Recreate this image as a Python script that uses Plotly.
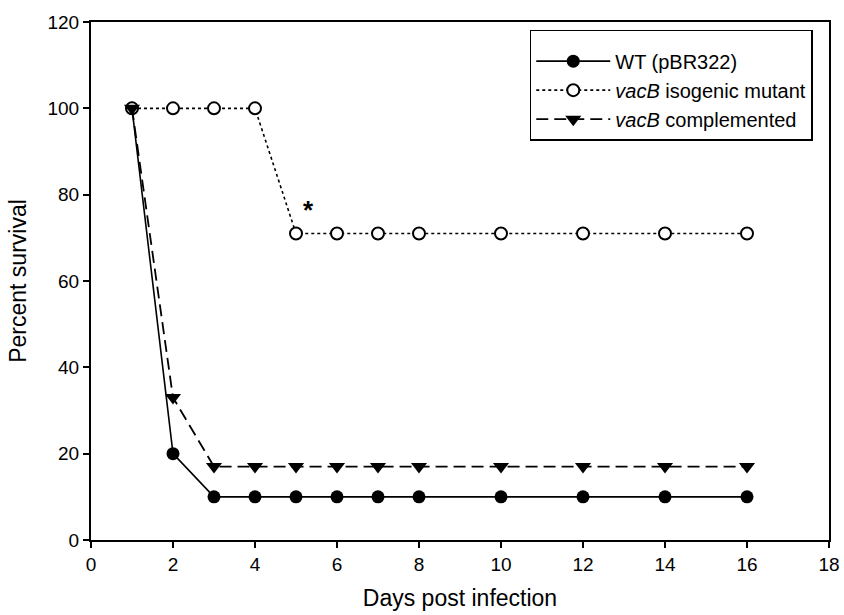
import plotly.graph_objects as go

days = [1, 2, 3, 4, 5, 6, 7, 8, 10, 12, 14, 16]
wt = [100, 20, 10, 10, 10, 10, 10, 10, 10, 10, 10, 10]
mutant = [100, 100, 100, 100, 71, 71, 71, 71, 71, 71, 71, 71]
complemented = [100, 33, 17, 17, 17, 17, 17, 17, 17, 17, 17, 17]

x_ticks = [0, 2, 4, 6, 8, 10, 12, 14, 16, 18]
y_ticks = [0, 20, 40, 60, 80, 100, 120]

fig = go.Figure()
fig.add_trace(go.Scatter(
    x=days, y=wt, mode="lines+markers", name="WT (pBR322)",
    line=dict(color="black", width=1.6, dash="solid"),
    marker=dict(symbol="circle", size=13, color="black"),
))
fig.add_trace(go.Scatter(
    x=days, y=mutant, mode="lines+markers", name="<i>vacB</i> isogenic mutant",
    line=dict(color="black", width=1.6, dash="dot"),
    marker=dict(symbol="circle", size=12, color="white", line=dict(width=2, color="black")),
))
fig.add_trace(go.Scatter(
    x=days, y=complemented, mode="lines+markers", name="<i>vacB</i> complemented",
    line=dict(color="black", width=1.8, dash="12px,6px"),
    marker=dict(symbol="triangle-down", size=14, color="black"),
))

fig.add_annotation(x=5.3, y=76.5, text="<b>*</b>", showarrow=False,
                   font=dict(size=26, color="black", family="Liberation Sans"))

axis_common = dict(
    showgrid=False, zeroline=False, showline=True, linecolor="black", linewidth=2,
    mirror=True, ticks="outside", ticklen=6, tickwidth=1.5, tickcolor="black",
    tickfont=dict(size=19, color="black", family="Liberation Sans"),
    ticklabeloverflow="allow", automargin=False,
)

fig.update_layout(
    width=844, height=615,
    margin=dict(l=91, r=15, t=22, b=75),
    plot_bgcolor="white", paper_bgcolor="white",
    font=dict(family="Liberation Sans", color="black"),
    xaxis=dict(range=[0, 18], tickvals=x_ticks,
               title=dict(text="Days post infection", font=dict(size=23), standoff=16),
               **axis_common),
    yaxis=dict(range=[0, 120], tickvals=y_ticks,
               title=dict(text="Percent survival", font=dict(size=23), standoff=14),
               **axis_common),
    legend=dict(x=0.978, y=0.985, xanchor="right", yanchor="top",
                bordercolor="black", borderwidth=1.5, bgcolor="white",
                font=dict(size=20, color="black"), itemwidth=74,
                title=dict(text=" ", font=dict(size=8))),
    showlegend=True,
)

fig.write_html("out.html", config={"displayModeBar": False},
               post_script="document.body.style.margin='0';")
